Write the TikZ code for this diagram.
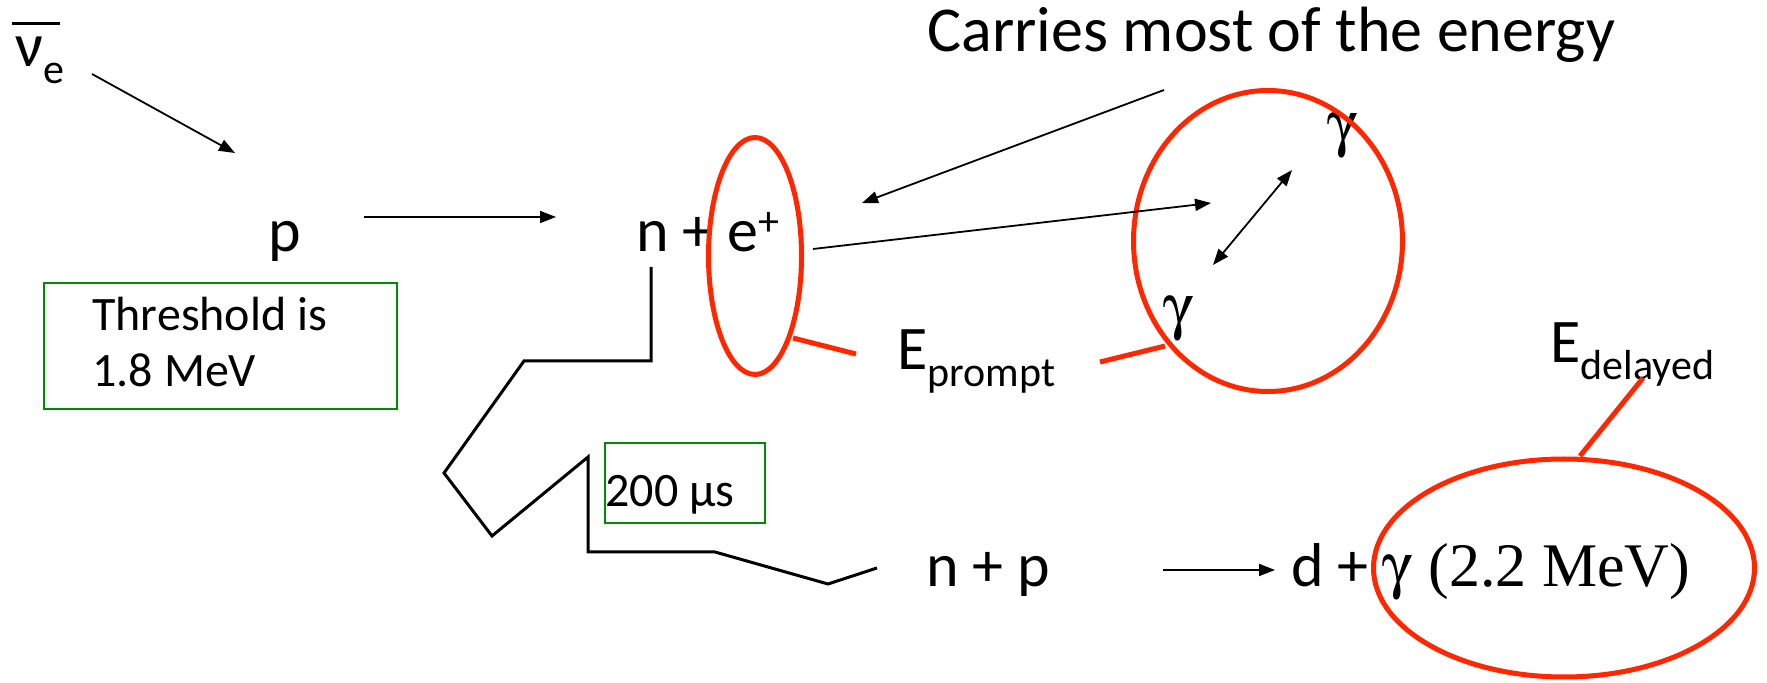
\documentclass[tikz,border=0pt]{standalone}
\usepackage{fontspec}
\usepackage[Symbol]{upgreek}
\setmainfont{Carlito}
\newfontfamily\serifgreek{Liberation Serif}
\usetikzlibrary{arrows.meta, shapes.geometric}
\definecolor{ringRed}{RGB}{255,38,0}
\definecolor{boxGreen}{RGB}{0,140,0}
\newcommand{\lowidx}[1]{\raisebox{-0.27em}{\fontsize{21}{25}\selectfont #1}}
\newcommand{\upidx}[1]{\raisebox{0.27em}{\fontsize{21}{25}\selectfont #1}}
\newcommand{\nubar}{\rlap{\kern-0.05em\rule[0.68em]{0.77em}{1.5pt}}ν}

\begin{document}
\begin{tikzpicture}[
    x=0.5pt, y=-0.5pt,
    txt/.style={inner sep=0pt, anchor=base west, font=\fontsize{31}{37}\selectfont},
    small/.style={inner sep=0pt, anchor=base west, font=\fontsize{24}{29}\selectfont},
    greek/.style={inner sep=0pt, anchor=base west, font=\serifgreek\fontsize{31}{37}\selectfont},
    arrow/.style={-{Triangle[length=8pt, width=6pt]}, line width=0.9pt},
    ring/.style={ellipse, draw=ringRed, line width=2.5pt, inner sep=0pt},
    tie/.style={draw=ringRed, line width=2.5pt},
    greenbox/.style={rectangle, draw=boxGreen, line width=1pt, anchor=north west, inner sep=0pt},
    walk/.style={line width=1.5pt, line join=miter}
]
\useasboundingbox (0,0) rectangle (1767,683);

% particles
\node[txt] (nu) at (15,67) {\nubar\lowidx{e}};
\node[txt] (p) at (268,252) {p};
\node[txt] (ne) at (636,252) {n + e\upidx{+}};
\node[txt] (np) at (926,587) {n + p};
\node[txt] (dg) at (1291,587) {d + {\serifgreek $\upgamma$ (2.2 MeV)}};
\node[greek] (gUp) at (1327,145) {$\upgamma$};
\node[greek] (gLow) at (1163,328) {$\upgamma$};

% labels
\node[txt, font=\fontsize{32}{38}\selectfont] (carry) at (927,52) {Carries most of the energy};
\node[txt] (Ep) at (897,370) {E\lowidx{prompt}};
\node[txt] (Ed) at (1550,363) {E\lowidx{delayed}};

% threshold box
\node[greenbox, minimum width=176.5pt, minimum height=63pt] (thrBox) at (43,282) {};
\node[small] (thrA) at (92,331) {Threshold is};
\node[small] (thrB) at (92,387) {1.8 MeV};

% capture time box
\node[greenbox, minimum width=80pt, minimum height=40pt] (muBox) at (604,442) {};
\node[small] (mu) at (605,507) {200 μs};

% red rings
\node[ring, minimum width=46.5pt, minimum height=118.5pt] (posRing) at (755,256) {};
\node[ring, minimum width=134.5pt, minimum height=150.5pt] (gamRing) at (1268,241) {};
\node[ring, minimum width=190.5pt, minimum height=109pt] (capRing) at (1564,568) {};

% arrow ends
\coordinate (nuTail) at (92,74);
\coordinate (nuHead) at (235,153);
\coordinate (pTail) at (364,217);
\coordinate (pHead) at (556,217);
\coordinate (carryTail) at (1164,90);
\coordinate (carryHead) at (862,203);
\coordinate (eTail) at (813,249);
\coordinate (eHead) at (1211,203);
\coordinate (gA) at (1213,265);
\coordinate (gB) at (1292,170);
\coordinate (npTail) at (1163,570);
\coordinate (npHead) at (1275,570);

\draw[arrow] (nuTail) -- (nuHead);
\draw[arrow] (pTail) -- (pHead);
\draw[arrow] (carryTail) -- (carryHead);
\draw[arrow] (eTail) -- (eHead);
\draw[arrow, {Triangle[length=8pt, width=6pt]}-{Triangle[length=8pt, width=6pt]}] (gA) -- (gB);
\draw[arrow] (npTail) -- (npHead);

% red ties
\coordinate (posTie) at (793,338);
\coordinate (EpL) at (856,354);
\coordinate (EpR) at (1100,362);
\coordinate (gamTie) at (1165,346);
\coordinate (EdTie) at (1643,378);
\coordinate (capTie) at (1580,456);
\draw[tie] (posTie) -- (EpL);
\draw[tie] (EpR) -- (gamTie);
\draw[tie] (EdTie) -- (capTie);

% neutron random walk
\draw[walk] (651,267) -- (651,361) -- (524,361) -- (444,473) -- (492,536)
    -- (588,457) -- (588,552) -- (715,552) -- (828,584) -- (877,568);
\end{tikzpicture}
\end{document}
